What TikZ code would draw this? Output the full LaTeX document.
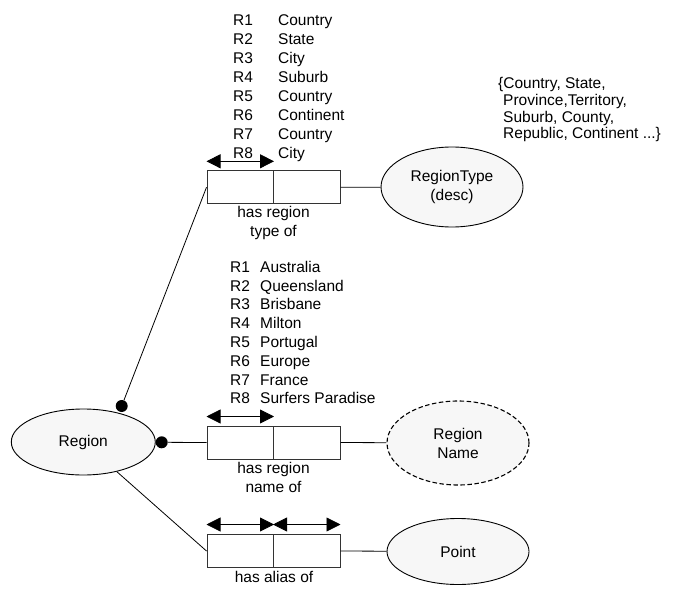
\documentclass[tikz,border=0pt]{standalone}
\usepackage{fontspec}
\setmainfont{Liberation Sans}
\usetikzlibrary{shapes.geometric,arrows.meta}

\begin{document}
\begin{tikzpicture}[x=1pt,y=-1pt,
  every node/.style={font=\fontsize{15.5}{19}\selectfont},
  ent/.style={ellipse,draw,line width=0.9pt,fill=black!3,inner sep=0pt,
    minimum width=142pt,minimum height=66pt,align=center},
  valent/.style={ent,dash pattern=on 4.5pt off 2.5pt,line width=1.1pt},
  half/.style={rectangle,draw=black!80,line width=1pt,minimum width=66.5pt,
    minimum height=33pt,inner sep=0pt},
  link/.style={draw,line width=0.8pt},
  span/.style={{Triangle[length=14pt,width=14pt]}-{Triangle[length=14pt,width=14pt]},
    line width=0.8pt},
  dotn/.style={circle,fill=black,inner sep=0pt,minimum size=12pt},
  txt/.style={inner sep=0pt,anchor=base west},
  roletxt/.style={inner sep=0pt,align=center}]
\useasboundingbox (0,0) rectangle (676,596);

% fact type: has region type of
\node[half] (t1) at (240.25,187.3) {};
\node[half] (t2) at (306.75,187.3) {};
\node[ent,minimum height=80pt] (rtype) at (452,187) {RegionType\\(desc)};
\node[roletxt] (tcap) at (273.5,222.5) {has region\\type of};

% fact type: has region name of
\node[half] (n1) at (240.25,442.5) {};
\node[half] (n2) at (306.75,442.5) {};
\node[valent,minimum height=84pt] (rname) at (458,443) {Region\\Name};
\node[roletxt] (ncap) at (273.5,477.5) {has region\\name of};

% fact type: has alias of
\node[half] (a1) at (240.25,551) {};
\node[half] (a2) at (306.75,551) {};
\node[ent] (point) at (458,551.5) {Point};
\node[roletxt] (acap) at (274,577) {has alias of};

% the Region entity and its mandatory role dots
\node[ent,minimum width=144pt] (region) at (83.3,442) {Region};
\node[dotn] (d1) at (121.7,406) {};
\node[dotn] (d2) at (161.7,442.3) {};

% connectors
\draw[link] (d1) -- (t1.west);
\draw[link] (d2) -- (n1.west);
\draw[link] (region) -- (a1.west);
\draw[link] (t2.east) -- (rtype);
\draw[link] (n2.east) -- (rname);
\draw[link] (a2.east) -- (point);

% uniqueness constraints
\draw[span] ([yshift=9pt]t1.north west) -- ([yshift=9pt]t1.north east);
\draw[span] ([yshift=9pt]n1.north west) -- ([yshift=9pt]n1.north east);
\draw[span] ([yshift=9.5pt]a1.north west) -- ([yshift=9.5pt]a1.north east);
\draw[span] ([yshift=9.5pt]a2.north west) -- ([yshift=9.5pt]a2.north east);

% sample populations
\foreach \r/\v [count=\i] in {R1/Country,R2/State,R3/City,R4/Suburb,
    R5/Country,R6/Continent,R7/Country,R8/City}
  \node[txt] (tl\i) at (233,{25.5+19*(\i-1)}) {\makebox[45pt][l]{\r}\v};
\foreach \r/\v [count=\i] in {R1/Australia,R2/Queensland,R3/Brisbane,R4/Milton,
    R5/Portugal,R6/Europe,R7/France,R8/Surfers Paradise}
  \node[txt] (nl\i) at (230,{272.2+18.8*(\i-1)}) {\makebox[30pt][l]{\r}\v};

% value list of region types
\node[txt] (s1) at (498,88.8) {\{Country, State,};
\node[txt] (s2) at (503,105.5) {Province,Territory,};
\node[txt] (s3) at (503,122.2) {Suburb, County,};
\node[txt] (s4) at (503,138.8) {Republic, Continent ...\}};
\end{tikzpicture}
\end{document}
